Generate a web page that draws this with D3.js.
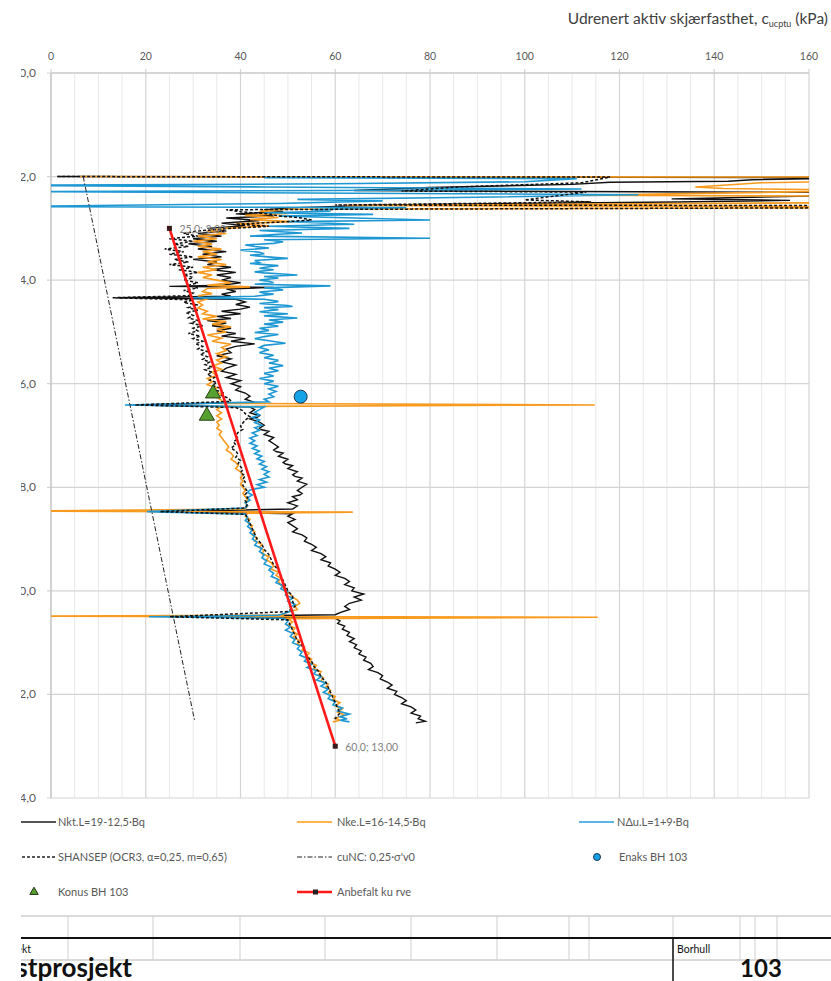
<!DOCTYPE html>
<html lang="no">
<head>
<meta charset="UTF-8" />
<title>Udrenert aktiv skjærfasthet</title>
<style>
    html, body { margin: 0; padding: 0; background: white; }
    svg { display: block; font-family: Lato, "Open Sans", sans-serif; }
</style>
</head>
<body>
<svg id="svg" width="831" height="981"></svg>
<script src="https://cdn.jsdelivr.net/npm/d3@7"></script>
<script>
// ---- data: [cu (kPa), depth (m)] ----
const xTicks = [0, 20, 40, 60, 80, 100, 120, 140, 160];
const depthTicks = [0, 2, 4, 6, 8, 10, 12, 14];

const nkt = [
 [1.5,2.00],[175,2.02],[148,2.06],[143,2.09],[118,2.11],[110,2.15],[80,2.21],[64,2.27],[172,2.31],[170,2.36],[148,2.40],[131,2.43],[156,2.46],[132,2.49],[98,2.52],[70,2.55],[52,2.6],[45,2.64],[49,2.68],[39,2.72],[47,2.76],[37,2.8],[44,2.85],[36,2.9],[41,2.95],[33,3.0],
 [37,3.05],[31,3.1],[36,3.15],[30,3.2],[35,3.25],[29,3.3],[34,3.35],[31,3.4],[37,3.45],[32,3.5],[36,3.55],[30,3.6],[35,3.65],[33,3.7],[38,3.75],[34,3.8],[39,3.85],[35,3.9],[38,3.95],[36,4.0],[40,4.05],[36,4.1],[25,4.12],[47,4.14],[37,4.17],[39,4.22],[36,4.27],[38,4.31],[14,4.34],[39,4.37],[41,4.42],[39,4.47],[42,4.52],[40,4.56],[36,4.6],[40,4.65],[35,4.7],[38,4.74],[33,4.78],[37,4.83],[34,4.88],[38,4.93],[35,4.98],[39,5.03],[36,5.08],[41,5.13],[38,5.18],[43,5.23],[39,5.28],[37,5.33],[38,5.4],[35,5.46],[38,5.52],[36,5.58],[39,5.64],[37,5.7],[36,5.76],[39,5.82],[37,5.88],[40,5.94],[38,6.0],[40,6.06],[39,6.12],[41,6.18],[42,6.24],[41,6.3],[43,6.36],[18,6.41],[42,6.45],[43,6.5],[42.5,6.53],[42,6.56],[44,6.62],[43.5,6.65],[42,6.68],[44,6.74],[45,6.8],[44,6.86],[44.5,6.89],[46,6.92],[45,6.98],[47,7.04],[46.5,7.07],[46,7.1],[47,7.16],[48,7.22],[47,7.28],[47.5,7.31],[49,7.34],[48,7.4],[50,7.46],[49,7.52],[49.5,7.55],[51,7.58],[50,7.64],[52,7.7],[51,7.76],[51.5,7.79],[53,7.82],[52,7.88],[54,7.94],[53,8.0],[52,8.06],[53,8.12],[52.5,8.15],[51,8.18],[52,8.24],[50,8.3],[52,8.36],[51,8.42],[24,8.47],[51,8.51],[50,8.56],[51.5,8.62],[50,8.68],[51,8.74],[52,8.8],[51,8.86],[53,8.92],[54,8.98],[53.5,9.04],[55,9.1],[56,9.16],[55,9.22],[57,9.28],[58,9.34],[57,9.4],[59,9.46],[58.5,9.52],[60,9.58],[61,9.64],[60,9.7],[62,9.76],[63,9.82],[62,9.88],[64,9.94],[63.5,10.0],[66,10.06],[64,10.12],[65.5,10.18],[63,10.24],[62,10.3],[63,10.36],[61,10.42],[60,10.46],[25.5,10.5],[60,10.53],[61,10.58],[60.5,10.63],[62,10.68],[61.5,10.74],[63,10.8],[62.5,10.86],[64,10.92],[63,10.98],[64.5,11.04],[64,11.1],[65.5,11.16],[65,11.22],[66.5,11.28],[66,11.34],[67.5,11.4],[68,11.46],[67,11.52],[69,11.58],[70,11.64],[69.5,11.7],[71,11.76],[72,11.82],[71,11.88],[73,11.94],[72.5,12.0],[74,12.06],[75,12.12],[74,12.18],[76,12.24],[77,12.3],[76,12.36],[78,12.42],[77.5,12.47],[79,12.52],[77,12.55]
];

const nke = [
 [6,2.00],[175,2.01],[175,2.08],[150,2.12],[136,2.2],[142,2.23],[175,2.27],[112,2.36],[175,2.38],[175,2.5],[62,2.56],[175,2.58],[175,2.6],[50,2.63],[44,2.67],[50,2.71],[41,2.75],[48,2.79],[42,2.83],[51,2.87],[39,2.91],[46,2.95],[37,3.0],
 [33,3.05],[37,3.1],[31,3.15],[35,3.2],[30,3.25],[34,3.3],[31,3.35],[36,3.4],[32,3.45],[35,3.5],[31,3.55],[36,3.6],[33,3.65],[37,3.7],[32,3.75],[35,3.8],[31,3.85],[34,3.9],[32,3.95],[35,4.0],[38,4.05],[33,4.1],[42,4.13],[33,4.16],[32,4.22],[34,4.26],[31,4.3],[33,4.36],[31,4.42],[32,4.48],[31,4.54],[33,4.6],[32,4.65],[35,4.7],[32,4.75],[37,4.8],[34,4.85],[38,4.9],[35,4.95],[37,5.0],[33,5.06],[36,5.12],[34,5.18],[38,5.24],[36,5.3],[37,5.36],[35,5.42],[37,5.48],[35,5.54],[36,5.6],[34,5.66],[36,5.72],[34,5.78],[35,5.84],[33,5.9],[34,5.96],[33,6.02],[35,6.08],[34,6.14],[36,6.2],[35,6.26],[36,6.32],[36,6.38],[114.8,6.41],[36,6.44],[35,6.5],[36,6.56],[35,6.62],[36,6.68],[35,6.74],[35.5,6.8],[35,6.86],[36,6.92],[35.5,6.98],[36,7.04],[36.5,7.1],[37,7.16],[37.5,7.22],[37,7.28],[38,7.34],[38.5,7.4],[38,7.46],[39,7.52],[39.5,7.58],[39,7.64],[40,7.7],[40.5,7.76],[40,7.82],[40.5,7.88],[40,7.94],[40.5,8.0],[41,8.06],[40.5,8.12],[41,8.18],[41.5,8.24],[41,8.3],[41.5,8.36],[41,8.42],[-10,8.46],[63.7,8.48],[41.5,8.5],[41,8.56],[42,8.62],[41.5,8.68],[42.5,8.74],[42,8.8],[43,8.86],[42.5,8.92],[43.5,8.98],[43,9.04],[44.5,9.1],[44,9.16],[45,9.22],[44.5,9.28],[46,9.34],[45.5,9.4],[46.5,9.46],[47,9.52],[46.5,9.58],[48,9.64],[47.5,9.7],[48.5,9.76],[48,9.82],[48.5,9.88],[49,9.94],[49.5,10.0],[50.5,10.06],[51,10.12],[52,10.18],[52.5,10.24],[51.5,10.3],[52,10.36],[49.5,10.42],[49,10.47],[-10,10.49],[115.4,10.51],[50,10.54],[51,10.6],[50,10.66],[51.5,10.72],[51,10.78],[52,10.84],[51,10.9],[52.5,10.96],[52,11.02],[53.5,11.08],[53,11.14],[54.5,11.2],[54,11.26],[55,11.32],[54.5,11.38],[56,11.44],[55.5,11.5],[57,11.56],[56.5,11.62],[57.5,11.68],[57,11.74],[58.5,11.8],[58,11.86],[59,11.92],[58.5,11.98],[60,12.04],[59.5,12.1],[61,12.16],[60,12.22],[61.5,12.28],[60.5,12.34],[62,12.4],[60,12.46],[61,12.5],[59.5,12.53]
];

const ndu = [
 [45,2.02],[111,2.04],[100,2.1],[60,2.14],[-10,2.17],[45,2.2],[112,2.24],[60,2.27],[-10,2.29],[124,2.35],[90,2.4],[52,2.44],[70,2.47],[48,2.52],[-10,2.58],[75,2.6],[55,2.64],[59,2.67],[45,2.7],[68,2.73],[48,2.76],[80,2.84],[50,2.87],[64,2.92],[46,2.96],
 [63,3.0],[44,3.04],[53,3.09],[47,3.12],[42,3.15],[80,3.19],[45,3.22],[49,3.26],[47,3.29],[41,3.32],[43,3.35],[46,3.38],[40,3.42],[44,3.46],[45,3.49],[42,3.52],[47,3.56],[50,3.58],[43,3.62],[44,3.66],[42,3.68],[48,3.72],[46,3.74],[44,3.77],[47,3.8],[43,3.84],[45,3.86],[49,3.88],[52,3.9],[45,3.93],[48,3.96],[44,4.0],[46,4.02],[47,4.05],[43,4.08],[59,4.11],[45,4.15],[48,4.17],[49,4.19],[44,4.23],[45,4.25],[47,4.27],[43,4.31],[30,4.34],[45,4.37],[48,4.41],[47,4.43],[44,4.45],[50,4.49],[51,4.51],[45,4.53],[48,4.57],[44,4.61],[46,4.63],[50,4.65],[45,4.69],[52,4.73],[49,4.75],[46,4.77],[49,4.81],[45,4.85],[47,4.87],[48,4.89],[44,4.93],[46,4.97],[43,5.01],[48,5.05],[45,5.09],[43,5.13],[46,5.17],[49.5,5.22],[45,5.26],[44,5.3],[46,5.35],[45,5.37],[44,5.4],[47,5.45],[45,5.5],[48,5.55],[47,5.58],[46,5.6],[49,5.65],[46,5.7],[48,5.75],[45,5.8],[47,5.85],[44,5.9],[47,5.95],[45,6.0],[48,6.05],[46,6.1],[47.5,6.15],[46,6.2],[47,6.25],[45,6.3],[46,6.35],[15.6,6.41],
 [45,6.45],[44,6.5],[43,6.55],[44,6.6],[42.5,6.65],[44,6.7],[43,6.75],[44.5,6.8],[43,6.85],[44,6.9],[42.5,6.95],[43.5,7.0],[42,7.05],[43,7.1],[42,7.15],[43.5,7.2],[42.5,7.25],[44,7.3],[43,7.35],[44.5,7.4],[43.5,7.45],[45,7.5],[44,7.55],[45.5,7.6],[44.5,7.65],[46,7.7],[45,7.75],[46,7.8],[44,7.85],[45.5,7.9],[43.5,7.95],[45,8.0],[42,8.05],[41.5,8.1],[42.5,8.15],[41.5,8.2],[42,8.25],[41,8.3],[41.5,8.35],[41,8.4],[20.3,8.47],[41,8.52],[41.5,8.58],[41,8.64],[42,8.7],[41.5,8.76],[42.5,8.82],[42,8.88],[43,8.94],[42.5,9.0],[43.5,9.06],[43,9.12],[44.5,9.18],[44,9.24],[45,9.3],[44.5,9.36],[45.5,9.42],[45,9.48],[46.5,9.54],[46,9.6],[47,9.66],[46.5,9.72],[48,9.78],[47.5,9.84],[49,9.9],[48.5,9.96],[50,10.02],[49.5,10.08],[51,10.14],[50,10.2],[51.5,10.26],[50.5,10.32],[51,10.38],[49,10.44],[48,10.47],[20.7,10.5],[49,10.53],[50,10.58],[49.5,10.64],[50.5,10.7],[49.5,10.76],[51,10.82],[50.5,10.88],[51.5,10.94],[51,11.0],[52.5,11.06],[52,11.12],[53,11.18],[52.5,11.24],[54,11.3],[53.5,11.36],[55,11.42],[54,11.48],[56,11.54],[55.5,11.6],[57,11.66],[56,11.72],[58,11.78],[57,11.84],[58.5,11.9],[57.5,11.96],[59,12.02],[58.5,12.08],[60,12.14],[59.5,12.2],[61.5,12.26],[60.5,12.32],[63,12.38],[61,12.43],[62.5,12.47],[61,12.5],[63,12.53]
];

const shansep = [
 [1.3,2.00],[118,2.01],[112,2.12],[86,2.2],[74,2.28],[113,2.3],[100,2.45],[114,2.49],[60,2.55],[175,2.56],[175,2.6],[37,2.64],[40,2.68],[46,2.72],[48,2.76],[53,2.8],[55,2.84],[48,2.88],[39,2.92],[46,2.96],[38,3.0],[31,3.05],[28,3.1],[31,3.15],[25,3.2],[30,3.25],[26,3.3],[29,3.35],[24,3.4],[28,3.45],[25,3.5],[30,3.55],[26,3.6],[29,3.65],[25,3.7],[30,3.75],[27,3.8],[31,3.85],[28,3.9],[30,3.95],[28,4.0],[31,4.05],[29,4.1],[31,4.15],[28,4.2],[30,4.25],[29,4.3],[13,4.34],[30,4.38],[28,4.43],[31,4.48],[29,4.53],[31,4.58],[28.5,4.63],[30,4.68],[29,4.73],[31,4.78],[29.5,4.83],[32,4.88],[30,4.93],[31,4.98],[29,5.03],[31.5,5.08],[30,5.13],[32,5.18],[30.5,5.23],[32,5.28],[31,5.33],[33,5.38],[31.5,5.43],[33,5.48],[32,5.53],[33.5,5.58],[32.5,5.63],[34,5.68],[32.5,5.73],[34,5.78],[33,5.83],[34.5,5.88],[33.5,5.93],[35,5.98],[34,6.03],[35.5,6.08],[35,6.13],[36.5,6.18],[36,6.23],[37.5,6.28],[38,6.34],[17.7,6.41],[39,6.46],[40.5,6.52],[41,6.58],[42,6.64],[41,6.7],[40.5,6.76],[40,6.82],[40.5,6.88],[39.5,6.94],[39,7.0],[39.5,7.06],[38.5,7.12],[39,7.18],[38,7.24],[39,7.3],[39.5,7.36],[39,7.42],[40,7.48],[39.5,7.54],[40,7.6],[40.5,7.66],[40,7.72],[41,7.78],[40.5,7.84],[41,7.9],[40.5,7.96],[41,8.02],[41.5,8.08],[41,8.14],[41.5,8.2],[41,8.26],[41.5,8.32],[41,8.4],[23,8.47],[41,8.52],[41.5,8.6],[42,8.7],[42.5,8.8],[43,8.9],[43.5,9.0],[44.5,9.1],[45,9.2],[46,9.3],[46.5,9.4],[47,9.5],[48,9.6],[48.5,9.7],[49,9.8],[49.5,9.9],[50,10.0],[51,10.1],[51,10.2],[51.5,10.3],[50,10.4],[25,10.5],[50,10.56],[50.5,10.66],[51,10.76],[51.5,10.86],[52,10.96],[53,11.06],[53.5,11.16],[54,11.26],[55,11.36],[55.5,11.46],[56.5,11.56],[57,11.66],[58,11.76],[58.5,11.86],[59,11.96],[59.5,12.06],[60,12.16],[60.5,12.26],[61,12.36],[60,12.46],[60.5,12.5]
];

const cuNC = [[6.8, 2.0], [30.3, 12.5]];
const enaks = [[52.7, 6.25]];
const konus = [[34.2, 6.19], [32.9, 6.62]];
const anbefalt = [[25, 3.0], [60, 13.0]];

const legendLabels = [
    "Nkt.L=19-12,5·Bq", "Nke.L=16-14,5·Bq", "NΔu.L=1+9·Bq",
    "SHANSEP (OCR3, α=0,25, m=0,65)", "cuNC: 0,25·σ'v0", "Enaks BH 103",
    "Konus BH 103", "Anbefalt ku rve"
];

// ---- layout ----
const plot = { left: 51, top: 73, right: 809, bottom: 798 };
const svg = d3.select("#svg");

const xScale = d3.scaleLinear().domain([0, 160]).range([plot.left, plot.right]);
const yScale = d3.scaleLinear().domain([0, 14]).range([plot.top, plot.bottom]);

const defs = svg.append("defs");
// the picture is cut a little on the left side
defs.append("clipPath").attr("id", "crop")
    .append("rect").attr("x", 21).attr("y", 0).attr("width", 810).attr("height", 981);
defs.append("clipPath").attr("id", "plotClip")
    .append("rect").attr("x", plot.left).attr("y", plot.top)
    .attr("width", plot.right - plot.left).attr("height", plot.bottom - plot.top);

const root = svg.append("g").attr("clip-path", "url(#crop)");

// title
const title = root.append("text")
    .attr("x", 828).attr("y", 24)
    .attr("text-anchor", "end")
    .attr("fill", "#404040")
    .style("font-size", "15.5px");
title.append("tspan").text("Udrenert aktiv skjærfasthet, c");
title.append("tspan").attr("dy", 3).style("font-size", "9px").text("ucptu");
title.append("tspan").attr("dy", -3).text(" (kPa)");

// gridlines
const grid = root.append("g");
grid.selectAll(".minor")
    .data(d3.range(0, 161, 5).filter(v => v % 20 !== 0))
    .enter().append("line")
    .attr("x1", d => xScale(d)).attr("x2", d => xScale(d))
    .attr("y1", plot.top).attr("y2", plot.bottom)
    .attr("stroke", "#e8e8e8").attr("stroke-width", 1);

grid.selectAll(".major")
    .data(xTicks)
    .enter().append("line")
    .attr("x1", d => xScale(d)).attr("x2", d => xScale(d))
    .attr("y1", plot.top - 4).attr("y2", plot.bottom)
    .attr("stroke", "#d4d4d4").attr("stroke-width", 1.2);

grid.selectAll(".hline")
    .data(depthTicks)
    .enter().append("line")
    .attr("x1", plot.left - 4).attr("x2", plot.right)
    .attr("y1", d => yScale(d)).attr("y2", d => yScale(d))
    .attr("stroke", "#d4d4d4").attr("stroke-width", 1.2);

// axes frame
root.append("line")
    .attr("x1", plot.left).attr("x2", plot.left)
    .attr("y1", plot.top).attr("y2", plot.bottom)
    .attr("stroke", "#c4c4c4").attr("stroke-width", 1.2);
root.append("line")
    .attr("x1", plot.left).attr("x2", plot.right)
    .attr("y1", plot.top).attr("y2", plot.top)
    .attr("stroke", "#c4c4c4").attr("stroke-width", 1.2);

// tick labels
root.selectAll(".xlab")
    .data(xTicks)
    .enter().append("text")
    .attr("x", d => xScale(d)).attr("y", 60)
    .attr("text-anchor", "middle")
    .attr("fill", "#595959")
    .style("font-size", "10.5px")
    .text(d => d);

root.selectAll(".ylab")
    .data(depthTicks)
    .enter().append("text")
    .attr("x", 36).attr("y", d => yScale(d) + 4)
    .attr("text-anchor", "end")
    .attr("fill", "#595959")
    .style("font-size", "12px")
    .text(d => d3.format(".1f")(d).replace(".", ","));

// series
const line = d3.line().x(d => xScale(d[0])).y(d => yScale(d[1]));
const data = root.append("g").attr("clip-path", "url(#plotClip)");

data.append("path").datum(nkt)
    .attr("d", line).attr("fill", "none")
    .attr("stroke", "#111").attr("stroke-width", 1.4);
data.append("path").datum(nke)
    .attr("d", line).attr("fill", "none")
    .attr("stroke", "#f79a1e").attr("stroke-width", 1.6);
data.append("path").datum(ndu)
    .attr("d", line).attr("fill", "none")
    .attr("stroke", "#1d98d3").attr("stroke-width", 1.6);
data.append("path").datum(shansep)
    .attr("d", line).attr("fill", "none")
    .attr("stroke", "#111").attr("stroke-width", 1.5)
    .attr("stroke-dasharray", "3,2");
data.append("path").datum(cuNC)
    .attr("d", line).attr("fill", "none")
    .attr("stroke", "#222").attr("stroke-width", 1)
    .attr("stroke-dasharray", "5,2,1.5,2");

// Enaks
data.selectAll(".enaks")
    .data(enaks)
    .enter().append("circle")
    .attr("cx", d => xScale(d[0])).attr("cy", d => yScale(d[1]))
    .attr("r", 6.5)
    .attr("fill", "#14a3e6").attr("stroke", "#1b3550").attr("stroke-width", 1);

// Konus
data.selectAll(".konus")
    .data(konus)
    .enter().append("path")
    .attr("d", d3.symbol(d3.symbolTriangle, 100))
    .attr("transform", d => `translate(${xScale(d[0])},${yScale(d[1])})`)
    .attr("fill", "#55a02e").attr("stroke", "#2a3f1a").attr("stroke-width", 1);

// Anbefalt kurve
data.append("path").datum(anbefalt)
    .attr("d", line).attr("fill", "none")
    .attr("stroke", "#ff1a1a").attr("stroke-width", 2.6);
data.selectAll(".anb")
    .data(anbefalt)
    .enter().append("rect")
    .attr("x", d => xScale(d[0]) - 2.5).attr("y", d => yScale(d[1]) - 2.5)
    .attr("width", 5).attr("height", 5)
    .attr("fill", "#3a1a1a");

root.selectAll(".anblab")
    .data(anbefalt)
    .enter().append("text")
    .attr("x", d => xScale(d[0]) + 10).attr("y", d => yScale(d[1]) + 5)
    .attr("fill", "#7f7f7f")
    .style("font-size", "10.5px")
    .text(d => `${d[0].toFixed(1).replace(".", ",")}; ${d[1].toFixed(2).replace(".", ",")}`);

// legend
const legend = root.append("g").style("font-size", "11px").attr("fill", "#595959");
const cols = [21, 297, 579];
const rows = [822, 857, 892];

function legendLine(x, y, color, width, dash) {
    legend.append("line")
        .attr("x1", x).attr("x2", x + 35).attr("y1", y).attr("y2", y)
        .attr("stroke", color).attr("stroke-width", width)
        .attr("stroke-dasharray", dash || null);
}
function legendText(x, y, t) {
    legend.append("text").attr("x", x).attr("y", y + 4).text(t);
}

legendLine(cols[0], rows[0], "#555", 2);
legendText(cols[0] + 37, rows[0], legendLabels[0]);
legendLine(cols[1], rows[0], "#ffb44d", 2);
legendText(cols[1] + 40, rows[0], legendLabels[1]);
legendLine(cols[2], rows[0], "#5ab6e4", 2);
legendText(cols[2] + 38, rows[0], legendLabels[2]);

legendLine(cols[0] + 1, rows[1], "#222", 1.6, "3,2");
legendText(cols[0] + 37, rows[1], legendLabels[3]);
legendLine(cols[1], rows[1], "#222", 1.2, "5,2,1.5,2");
legendText(cols[1] + 40, rows[1], legendLabels[4]);
legend.append("circle").attr("cx", cols[2] + 18).attr("cy", rows[1]).attr("r", 3.5)
    .attr("fill", "#14a3e6").attr("stroke", "#1b3550");
legendText(cols[2] + 40, rows[1], legendLabels[5]);

legend.append("path").attr("d", d3.symbol(d3.symbolTriangle, 30))
    .attr("transform", `translate(${cols[0] + 13},${rows[2]})`)
    .attr("fill", "#55a02e").attr("stroke", "#1f2f14");
legendText(cols[0] + 37, rows[2], legendLabels[6]);
legendLine(cols[1], rows[2], "#ff1a1a", 2.6);
legend.append("rect").attr("x", cols[1] + 16).attr("y", rows[2] - 2.5)
    .attr("width", 5).attr("height", 5).attr("fill", "#222");
legendText(cols[1] + 40, rows[2], legendLabels[7]);

// title block at the bottom
const block = root.append("g");
const blockCols = [68, 153, 240, 325, 411, 497, 569, 589, 673, 740, 755, 777];
block.append("line").attr("x1", 21).attr("x2", 831).attr("y1", 916).attr("y2", 916)
    .attr("stroke", "#cfcfcf").attr("stroke-width", 1.5);
block.selectAll(".bc")
    .data(blockCols)
    .enter().append("line")
    .attr("x1", d => d).attr("x2", d => d)
    .attr("y1", 916).attr("y2", 960)
    .attr("stroke", "#cfcfcf").attr("stroke-width", 1);
block.append("line").attr("x1", 21).attr("x2", 831).attr("y1", 960).attr("y2", 960)
    .attr("stroke", "#cfcfcf").attr("stroke-width", 1.5);
block.append("line").attr("x1", 21).attr("x2", 831).attr("y1", 938).attr("y2", 938)
    .attr("stroke", "#111").attr("stroke-width", 2);
block.append("line").attr("x1", 673).attr("x2", 673).attr("y1", 938).attr("y2", 981)
    .attr("stroke", "#111").attr("stroke-width", 1.5);

block.append("text").attr("x", 31).attr("y", 953).attr("text-anchor", "end")
    .attr("fill", "#111").style("font-size", "10.5px").text("Prosjekt");
block.append("text").attr("x", 677).attr("y", 953)
    .attr("fill", "#111").style("font-size", "10.5px").text("Borhull");
block.append("text").attr("x", -10).attr("y", 977)
    .attr("fill", "#111").style("font-size", "26px").style("font-weight", "bold")
    .text("Testprosjekt");
block.append("text").attr("x", 761).attr("y", 977).attr("text-anchor", "middle")
    .attr("fill", "#111").style("font-size", "24px").style("font-weight", "bold")
    .text("103");
</script>
</body>
</html>
